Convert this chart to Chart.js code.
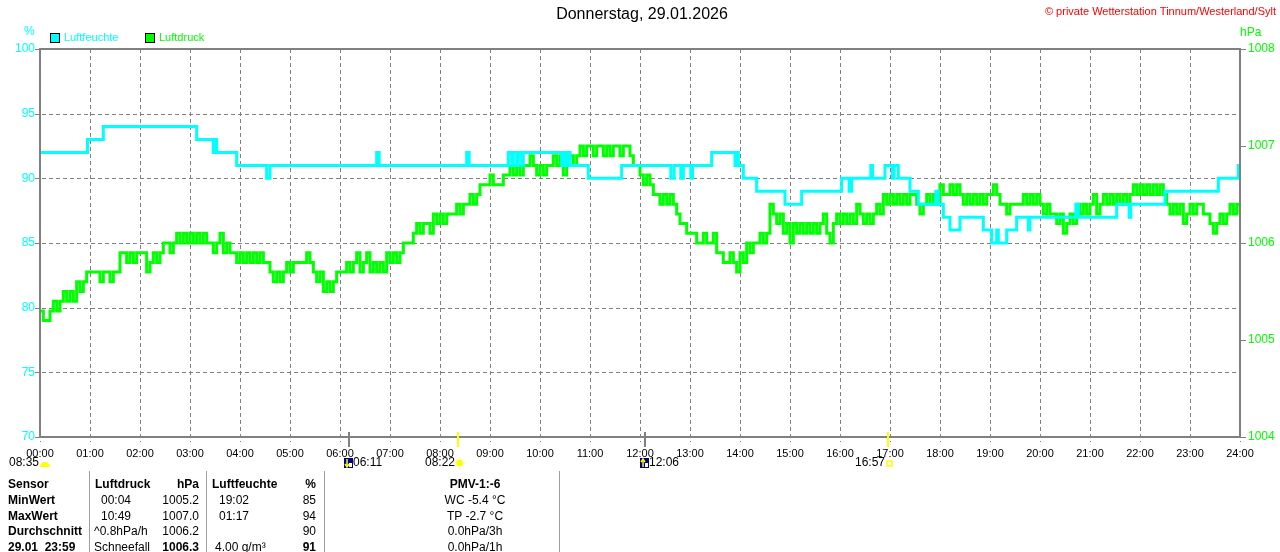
<!DOCTYPE html>
<html><head><meta charset="utf-8">
<style>html,body{margin:0;padding:0;background:#fff;}canvas{display:block;}</style>
<script src="https://cdn.jsdelivr.net/npm/chart.js@4.4.1/dist/chart.umd.min.js"></script>
</head><body>
<canvas id="c" width="1280" height="552"></canvas>
<script>
const hourLabels = ['00:00','01:00','02:00','03:00','04:00','05:00','06:00','07:00','08:00','09:00','10:00','11:00','12:00',
  '13:00','14:00','15:00','16:00','17:00','18:00','19:00','20:00','21:00','22:00','23:00','24:00'];
const humTicks = [70,75,80,85,90,95,100];
const presTicks = [1004,1005,1006,1007,1008];

// humidity (%) change points, minutes after midnight
const humTimes = [0,57,76,188,208,210,212,236,272,276,404,407,512,515,562,566,568,572,574,578,580,626,628,631,633,636,658,698,
  757,761,769,772,781,783,806,834,837,838,844,860,894,914,962,971,974,997,999,1014,1023,1025,1030,1044,1054,1075,1078,
  1084,1092,1104,1132,1142,1148,1150,1160,1172,1186,1188,1243,1246,1292,1307,1309,1350,1414,1438,1440];
const humValues = [92,93,94,93,92,93,92,91,90,91,92,91,92,91,92,91,92,91,92,91,92,91,92,91,92,91,90,91,
  90,91,90,91,90,91,92,91,92,91,90,89,88,89,90,89,90,91,90,91,90,91,90,89,88,89,88,
  87,86,87,86,85,86,85,86,87,86,87,88,87,88,87,88,89,90,91,91];

// air pressure (hPa), one reading every 4 minutes
const presStepMin = 4;
const presValues = [
  1005.3,1005.2,1005.2,1005.3,1005.4,1005.3,1005.4,1005.5,1005.4,1005.5,1005.4,1005.6,1005.5,1005.6,1005.7,
  1005.7,1005.7,1005.7,1005.6,1005.7,1005.7,1005.6,1005.7,1005.7,1005.9,1005.9,1005.8,1005.9,1005.8,1005.9,
  1005.9,1005.9,1005.7,1005.8,1005.9,1005.8,1005.9,1006.0,1006.0,1005.9,1006.0,1006.1,1006.0,1006.1,1006.0,
  1006.1,1006.0,1006.1,1006.0,1006.1,1006.0,1006.0,1005.9,1006.0,1006.1,1005.9,1006.0,1005.9,1005.9,1005.8,
  1005.9,1005.8,1005.9,1005.8,1005.9,1005.8,1005.9,1005.8,1005.8,1005.7,1005.6,1005.7,1005.6,1005.7,1005.8,
  1005.7,1005.8,1005.8,1005.8,1005.8,1005.9,1005.8,1005.7,1005.6,1005.7,1005.5,1005.6,1005.5,1005.6,1005.7,
  1005.7,1005.7,1005.8,1005.7,1005.8,1005.9,1005.7,1005.8,1005.9,1005.7,1005.8,1005.7,1005.8,1005.7,1005.9,
  1005.8,1005.9,1005.8,1005.9,1006.0,1006.0,1006.0,1006.1,1006.2,1006.1,1006.2,1006.2,1006.1,1006.3,1006.2,
  1006.3,1006.2,1006.3,1006.3,1006.3,1006.4,1006.3,1006.4,1006.4,1006.5,1006.4,1006.5,1006.6,1006.6,1006.6,
  1006.7,1006.6,1006.6,1006.6,1006.7,1006.7,1006.8,1006.7,1006.8,1006.7,1006.8,1006.8,1006.9,1006.8,1006.7,
  1006.8,1006.7,1006.8,1006.8,1006.9,1006.8,1006.9,1006.7,1006.9,1006.9,1006.8,1006.9,1007.0,1006.9,1007.0,
  1007.0,1006.9,1007.0,1007.0,1006.9,1007.0,1006.9,1007.0,1007.0,1006.9,1007.0,1007.0,1006.9,1006.8,1006.8,
  1006.7,1006.6,1006.7,1006.6,1006.5,1006.5,1006.4,1006.5,1006.4,1006.5,1006.4,1006.3,1006.2,1006.2,1006.1,
  1006.1,1006.1,1006.0,1006.0,1006.1,1006.0,1006.0,1006.1,1005.9,1005.9,1005.8,1005.8,1005.9,1005.8,1005.7,
  1005.9,1005.8,1006.0,1005.9,1006.0,1006.0,1006.1,1006.0,1006.1,1006.4,1006.3,1006.2,1006.3,1006.1,1006.2,
  1006.0,1006.2,1006.1,1006.2,1006.1,1006.2,1006.1,1006.2,1006.1,1006.2,1006.3,1006.1,1006.0,1006.2,1006.3,
  1006.2,1006.3,1006.2,1006.3,1006.2,1006.4,1006.3,1006.2,1006.3,1006.2,1006.3,1006.4,1006.3,1006.5,1006.4,
  1006.5,1006.4,1006.5,1006.4,1006.5,1006.4,1006.5,1006.5,1006.4,1006.3,1006.4,1006.5,1006.4,1006.5,1006.4,
  1006.6,1006.5,1006.5,1006.6,1006.5,1006.6,1006.5,1006.4,1006.5,1006.4,1006.5,1006.4,1006.5,1006.4,1006.5,
  1006.5,1006.6,1006.5,1006.4,1006.4,1006.3,1006.4,1006.4,1006.4,1006.4,1006.5,1006.4,1006.5,1006.4,1006.5,
  1006.4,1006.3,1006.4,1006.3,1006.3,1006.2,1006.3,1006.1,1006.2,1006.3,1006.2,1006.4,1006.3,1006.4,1006.3,
  1006.4,1006.5,1006.3,1006.4,1006.5,1006.4,1006.5,1006.4,1006.5,1006.4,1006.5,1006.4,1006.5,1006.6,1006.5,
  1006.6,1006.5,1006.6,1006.5,1006.6,1006.5,1006.6,1006.5,1006.4,1006.3,1006.4,1006.3,1006.4,1006.2,1006.3,
  1006.4,1006.3,1006.4,1006.4,1006.3,1006.3,1006.2,1006.1,1006.2,1006.3,1006.2,1006.3,1006.4,1006.3,1006.4,
  1006.3
];

// astronomical markers (minutes)
const moonMarks = [{t:371, label:'06:11', dir:'down'}, {t:726, label:'12:06', dir:'up'}];
const sunMarks = [{t:502, label:'08:22'}, {t:1017, label:'16:57'}];

// table
const tableCol1 = ['Sensor','MinWert','MaxWert','Durchschnitt','29.01  23:59'];
const tableCol2 = ['Luftdruck','00:04','10:49','^0.8hPa/h','Schneefall'];
const tableCol3 = ['hPa','1005.2','1007.0','1006.2','1006.3'];
const tableCol4 = ['Luftfeuchte','19:02','01:17','','4.00 g/m³'];
const tableCol5 = ['%','85','94','90','91'];
const tableCol6 = ['PMV-1:-6','WC -5.4 °C','TP -2.7 °C','0.0hPa/3h','0.0hPa/1h'];

const FONT = '"Liberation Sans", Arial, sans-serif';
const CYAN = '#00FFFF', GREEN = '#00FF00';

const humData = humTimes.map((t, i) => ({x: t, y: humValues[i]}));
const presData = presValues.map((v, i) => ({x: i * presStepMin, y: v}));

const decor = {
  id: 'decor',
  beforeDatasetsDraw(chart) {
    const {ctx, chartArea: a, scales: {x, yH}} = chart;
    ctx.save();
    ctx.strokeStyle = '#808080'; ctx.lineWidth = 1; ctx.setLineDash([4, 3]);
    humTicks.forEach(v => {
      const y = Math.round(yH.getPixelForValue(v)) + 0.5;
      ctx.beginPath(); ctx.moveTo(a.left - 5, y); ctx.lineTo(a.right, y); ctx.stroke();
    });
    hourLabels.forEach((l, h) => {
      const px = Math.round(x.getPixelForValue(h * 60)) + 0.5;
      ctx.beginPath(); ctx.moveTo(px, a.top); ctx.lineTo(px, a.bottom + 5); ctx.stroke();
    });
    ctx.restore();
  },
  afterDatasetsDraw(chart) {
    const {ctx, chartArea: a, scales: {x, yP}} = chart;
    ctx.save();
    ctx.setLineDash([]);
    ctx.strokeStyle = '#808080'; ctx.lineWidth = 2;
    ctx.strokeRect(a.left, a.top, a.right - a.left, a.bottom - a.top);
    ctx.lineWidth = 1;
    presTicks.forEach(v => {
      const y = Math.round(yP.getPixelForValue(v)) + 0.5;
      ctx.beginPath(); ctx.moveTo(a.right, y); ctx.lineTo(a.right + 6, y); ctx.stroke();
    });
    ctx.lineWidth = 2;
    moonMarks.forEach(m => {
      const px = Math.round(x.getPixelForValue(m.t));
      ctx.strokeStyle = '#808080';
      ctx.beginPath(); ctx.moveTo(px, a.bottom - 5); ctx.lineTo(px, a.bottom + 10); ctx.stroke();
    });
    sunMarks.forEach(m => {
      const px = Math.round(x.getPixelForValue(m.t));
      ctx.strokeStyle = '#FFFF00';
      ctx.beginPath(); ctx.moveTo(px, a.bottom - 5); ctx.lineTo(px, a.bottom + 10); ctx.stroke();
    });
    ctx.restore();
  },
  afterDraw(chart) {
    const {ctx, chartArea: a, scales: {x}} = chart;
    ctx.save();
    ctx.textBaseline = 'middle';
    // title
    ctx.fillStyle = '#000'; ctx.font = '16px ' + FONT; ctx.textAlign = 'center';
    ctx.fillText('Donnerstag, 29.01.2026', 642, 15);
    ctx.fillStyle = '#FF0000'; ctx.font = '11px ' + FONT; ctx.textAlign = 'right';
    ctx.fillText('© private Wetterstation Tinnum/Westerland/Sylt', 1276, 12);
    // units
    ctx.font = '12px ' + FONT;
    ctx.fillStyle = CYAN; ctx.textAlign = 'left'; ctx.fillText('%', 24, 32);
    ctx.fillStyle = GREEN; ctx.fillText('hPa', 1240, 33);
    // legend
    ctx.font = '11px ' + FONT;
    [[CYAN, 'Luftfeuchte', 50], [GREEN, 'Luftdruck', 145]].forEach(([c, t, lx]) => {
      ctx.fillStyle = c; ctx.fillRect(lx, 33, 9, 9);
      ctx.strokeStyle = '#000'; ctx.lineWidth = 1; ctx.strokeRect(lx + 0.5, 33.5, 9, 9);
      ctx.fillStyle = c; ctx.fillText(t, lx + 14, 38);
    });
    // marker row
    const ry = 463;
    ctx.font = '12px ' + FONT; ctx.fillStyle = '#000'; ctx.textAlign = 'left';
    ctx.fillText('08:35', 9, ry);
    ctx.fillStyle = '#FFFF00';
    ctx.beginPath(); ctx.arc(45, 467, 5, Math.PI, 0); ctx.closePath(); ctx.fill();
    moonMarks.forEach(m => {
      const px = Math.round(x.getPixelForValue(m.t));
      const bx = px - 5;
      ctx.fillStyle = '#000080'; ctx.fillRect(bx, ry - 5, 9, 10);
      ctx.fillStyle = '#FFFFFF'; ctx.fillRect(bx + 5, ry, 3, 4);
      ctx.strokeStyle = '#FFFF00'; ctx.lineWidth = 1.5;
      ctx.beginPath(); ctx.moveTo(bx + 3, ry - 4); ctx.lineTo(bx + 3, ry + 4); ctx.stroke();
      ctx.beginPath();
      if (m.dir === 'down') { ctx.moveTo(bx + 1, ry + 1); ctx.lineTo(bx + 3, ry + 4); ctx.lineTo(bx + 5, ry + 1); }
      else { ctx.moveTo(bx + 1, ry - 1); ctx.lineTo(bx + 3, ry - 4); ctx.lineTo(bx + 5, ry - 1); }
      ctx.stroke();
      ctx.fillStyle = '#000'; ctx.textAlign = 'left';
      ctx.fillText(m.label, bx + 9, ry);
    });
    sunMarks.forEach((m, i) => {
      const px = Math.round(x.getPixelForValue(m.t));
      ctx.fillStyle = '#000'; ctx.textAlign = 'right';
      ctx.fillText(m.label, px - 3, ry);
      if (i === 0) {
        ctx.fillStyle = '#FFFF00'; ctx.strokeStyle = '#FFF080'; ctx.lineWidth = 1;
        ctx.beginPath(); ctx.arc(px + 1.5, ry, 3.5, 0, Math.PI * 2); ctx.fill();
        for (let k = 0; k < 8; k++) {
          const ang = k * Math.PI / 4;
          ctx.beginPath();
          ctx.moveTo(px + 1.5 + Math.cos(ang) * 4.5, ry + Math.sin(ang) * 4.5);
          ctx.lineTo(px + 1.5 + Math.cos(ang) * 6, ry + Math.sin(ang) * 6);
          ctx.stroke();
        }
      } else {
        ctx.strokeStyle = '#FFFF00'; ctx.lineWidth = 1.5;
        ctx.strokeRect(px - 1, ry - 2, 5, 5);
      }
    });
    // table separators
    ctx.strokeStyle = '#A0A0A0'; ctx.lineWidth = 1;
    [89, 206, 324, 559].forEach(sx => {
      ctx.beginPath(); ctx.moveTo(sx + 0.5, 471); ctx.lineTo(sx + 0.5, 552); ctx.stroke();
    });
    const rowsY = [485, 501, 517, 532, 548];
    const B = 'bold 12px ' + FONT, N = '12px ' + FONT;
    ctx.fillStyle = '#000';
    rowsY.forEach((yy, r) => {
      const head = r === 0, last = r === 4;
      ctx.textAlign = 'left'; ctx.font = B; ctx.fillText(tableCol1[r], 8, yy);
      ctx.font = head ? B : N; ctx.fillText(tableCol2[r], head ? 95 : (r === 3 || r === 4 ? 94 : 101), yy);
      ctx.textAlign = 'right'; ctx.font = (head || last) ? B : N; ctx.fillText(tableCol3[r], 199, yy);
      ctx.textAlign = 'left'; ctx.font = head ? B : N; ctx.fillText(tableCol4[r], head ? 212 : (last ? 215 : 219), yy);
      ctx.textAlign = 'right'; ctx.font = (head || last) ? B : N; ctx.fillText(tableCol5[r], 316, yy);
      ctx.textAlign = 'center'; ctx.font = head ? B : N; ctx.fillText(tableCol6[r], 475, yy);
    });
    ctx.restore();
  }
};

Chart.defaults.font.family = FONT;
new Chart(document.getElementById('c'), {
  type: 'line',
  data: {
    datasets: [
      {label: 'Luftfeuchte', data: humData, yAxisID: 'yH', borderColor: CYAN, backgroundColor: CYAN,
       borderWidth: 3, stepped: true, pointRadius: 0, fill: false},
      {label: 'Luftdruck', data: presData, yAxisID: 'yP', borderColor: GREEN, backgroundColor: GREEN,
       borderWidth: 3, stepped: true, pointRadius: 0, fill: false}
    ]
  },
  options: {
    responsive: false,
    animation: false,
    devicePixelRatio: 1,
    layout: {padding: {top: 49, left: 0, right: 0, bottom: 0}},
    plugins: {legend: {display: false}, tooltip: {enabled: false}},
    scales: {
      x: {
        type: 'linear', min: 0, max: 1440,
        grid: {display: false, drawTicks: false}, border: {display: false},
        ticks: {stepSize: 60, autoSkip: false, maxRotation: 0, padding: 10, color: '#000',
          font: {size: 11}, callback: v => hourLabels[v / 60]},
        afterFit: s => { s.height = 115; }
      },
      yH: {
        position: 'left', min: 70, max: 100,
        grid: {display: false, drawTicks: false}, border: {display: false},
        ticks: {stepSize: 5, padding: 5, color: CYAN, font: {size: 12}, callback: v => String(v)},
        afterFit: s => { s.width = 40; }
      },
      yP: {
        position: 'right', min: 1004, max: 1008,
        grid: {display: false, drawTicks: false}, border: {display: false},
        ticks: {stepSize: 1, padding: 8, color: GREEN, font: {size: 12}, callback: v => String(v)},
        afterFit: s => { s.width = 40; }
      }
    }
  },
  plugins: [decor]
});
</script>
</body></html>
